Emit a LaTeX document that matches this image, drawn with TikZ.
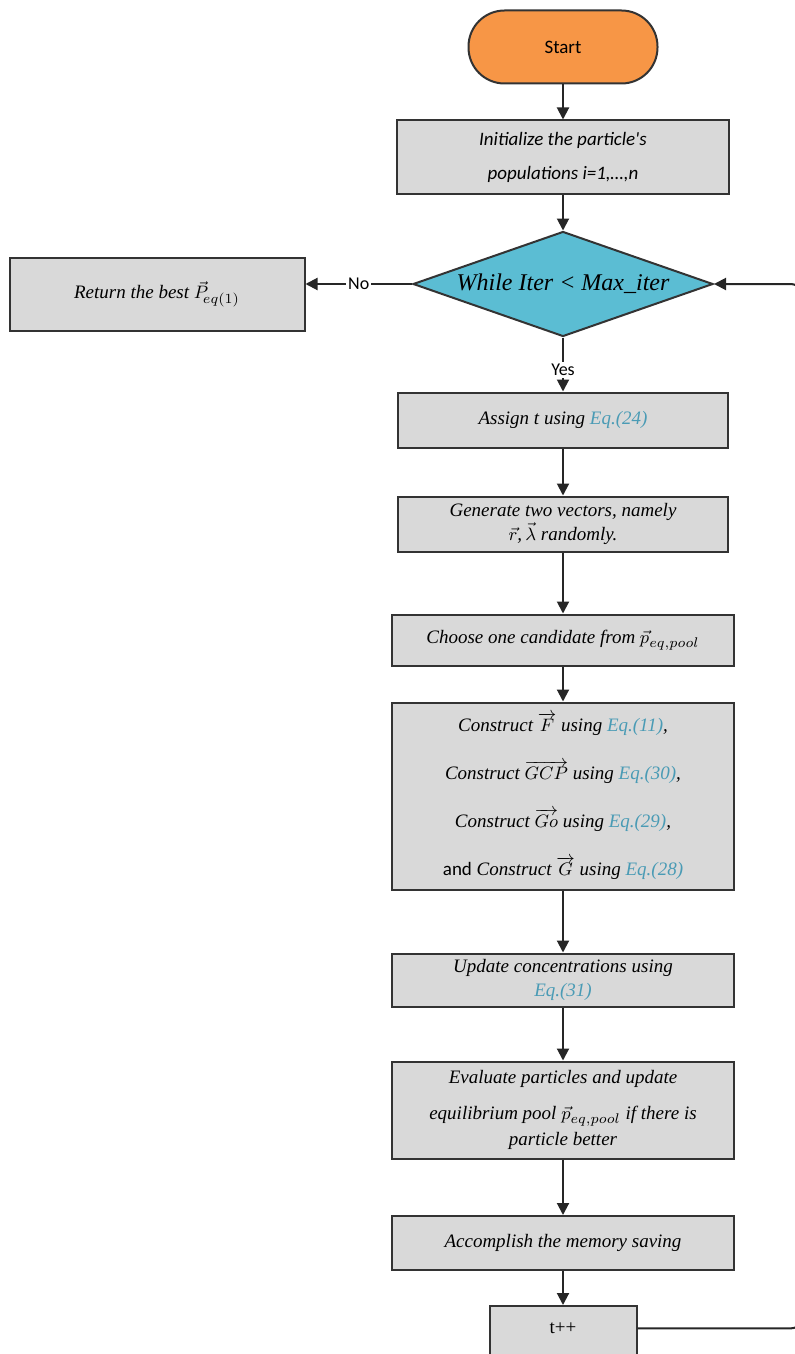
\documentclass[tikz,border=0pt]{standalone}
\usepackage{fontspec}
\usepackage{amsmath}
\setmainfont{Liberation Serif}
\newfontfamily\calibri{Carlito}
\usetikzlibrary{shapes.geometric,arrows.meta}
\definecolor{startorange}{HTML}{F79646}
\definecolor{condblue}{HTML}{5BBDD3}
\definecolor{boxgray}{HTML}{D9D9D9}
\definecolor{eqblue}{HTML}{4A9BB5}
\newcommand{\eqlink}[1]{\textcolor{eqblue}{Eq.(#1)}}
\tikzset{procbox/.style={rectangle, draw=black!80, line width=1pt, fill=boxgray,
		align=center, inner sep=1pt, font=\itshape\fontsize{9.5}{12}\selectfont},
	startbox/.style={rectangle, rounded corners=18pt, draw=black!80, line width=1pt,
		fill=startorange, minimum width=94.5pt, minimum height=36.5pt,
		font=\calibri\fontsize{9.5}{12}\selectfont},
	condbox/.style={diamond, draw=black!80, line width=1pt, fill=condblue, aspect=2.86,
		inner sep=0pt, minimum width=150pt, minimum height=52.5pt,
		font=\itshape\fontsize{12}{14}\selectfont},
	flow/.style={draw=black!85, line width=1pt, -{Triangle[width=6pt,length=6pt]}},
	tag/.style={fill=white, inner sep=1pt, font=\calibri\fontsize{9}{11}\selectfont}}

\begin{document}
\begin{tikzpicture}[x=0.5pt, y=-0.5pt]
		\useasboundingbox (0,0) rectangle (794,1354);
		%		\node[circle] (n0){Start};
		\node[startbox] (start) at (563,47){Start};
		\node[procbox, minimum width=166pt, minimum height=36.5pt, font=\calibri\itshape\fontsize{9.5}{17}\selectfont] (init) at (563,157){Initialize the particle's\\populations i=1,\ldots,n};
		\node[condbox] (cond) at (563,284){While Iter < Max\_iter};
		\node[procbox, minimum width=147.5pt, minimum height=36.5pt] (ret) at (157,294){Return the best $\vec{P}_{\!eq(1)}$};
		\node[procbox, minimum width=165pt, minimum height=27.5pt] (assign) at (563,420){Assign t using \eqlink{24}};
		\node[procbox, minimum width=165pt, minimum height=27.5pt, font=\itshape\fontsize{9.5}{12}\selectfont] (gen) at (563,524){Generate two vectors, namely\\$\vec{r}$,\,$\vec{\lambda}$ randomly.};
		\node[procbox, minimum width=171pt, minimum height=25.5pt] (choose) at (563,640){Choose one candidate from $\vec{p}_{eq,pool}$};
		\node[procbox, minimum width=171pt, minimum height=93.5pt, font=\itshape\fontsize{9.5}{24}\selectfont] (cons) at (563,796){Construct $\overrightarrow{F}$ using \eqlink{11},\\Construct $\overrightarrow{GCP}$ using \eqlink{30},\\Construct $\overrightarrow{Go}$ using \eqlink{29},\\{\calibri\upshape and} Construct $\overrightarrow{G}$ using \eqlink{28}};
		\node[procbox, minimum width=171pt, minimum height=26.5pt, font=\itshape\fontsize{9.5}{12}\selectfont] (upd) at (563,980){Update concentrations using\\\eqlink{31}};
		\node[procbox, minimum width=171pt, minimum height=48.5pt, font=\itshape\fontsize{9.5}{13}\selectfont] (eval) at (563,1110){Evaluate particles and update\\[5pt]equilibrium pool $\vec{p}_{eq,pool}$ if there is\\particle better};
		\node[procbox, minimum width=171pt, minimum height=27pt] (acc) at (563,1243){Accomplish the memory saving};
		\node[procbox, anchor=base, minimum width=73.5pt, text height=13.5pt, text depth=28pt, inner ysep=0pt, font=\fontsize{9.5}{12}\selectfont] (tpp) at (563,1333){t++};
		\coordinate (back) at (806,284);
		\draw[flow] (start) -- (init);
		\draw[flow] (init) -- (cond);
		\draw[flow] (cond.west) -- node[tag]{No} (cond.west -| ret.east);
		\draw[flow] (cond) -- node[tag, pos=0.6]{Yes} (assign);
		\draw[flow] (assign) -- (gen);
		\draw[flow] (gen) -- (choose);
		\draw[flow] (choose) -- (cons);
		\draw[flow] (cons) -- (upd);
		\draw[flow] (upd) -- (eval);
		\draw[flow] (eval) -- (acc);
		\draw[flow] (acc) -- (tpp);
		\draw[flow, rounded corners=8pt] (tpp.mid east) -| (back) -- (cond.east);
		\end{tikzpicture}
\end{document}
